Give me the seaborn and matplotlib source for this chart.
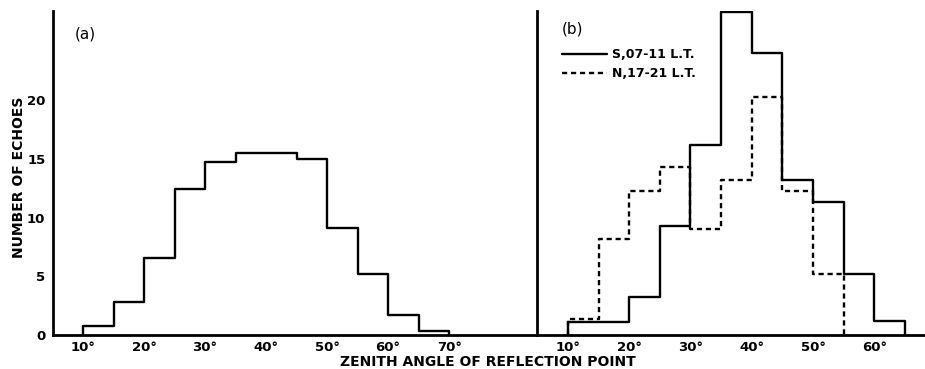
import numpy as np
import pandas as pd
import matplotlib
matplotlib.use("Agg")
import matplotlib.pyplot as plt
import seaborn as sns

# Histogram bin edges (degrees) and echo counts
edges_a = [10, 15, 20, 25, 30, 35, 40, 45, 50, 55, 60, 65, 70]
counts_a = [0.8, 2.8, 6.6, 12.4, 14.7, 15.5, 15.5, 15.0, 9.1, 5.2, 1.7, 0.3]

edges_s = [10, 15, 20, 25, 30, 35, 40, 45, 50, 55, 60, 65]
counts_s = [1.1, 1.1, 3.2, 9.3, 16.2, 27.5, 24.0, 13.2, 11.3, 5.2, 1.2]

edges_n = [10, 15, 20, 25, 30, 35, 40, 45, 50, 55]
counts_n = [1.4, 8.2, 12.3, 14.3, 9.0, 13.2, 20.3, 12.3, 5.2]

label_s = "S,07-11 L.T."
label_n = "N,17-21 L.T."

yticks_a = [0, 5, 10, 15, 20]
xticks_a = list(range(10, 80, 5))
xticks_b = list(range(10, 70, 5))

sns.set_theme(style="white")
plt.rcParams["font.family"] = ["DejaVu Sans"]
plt.rcParams["text.color"] = "black"
plt.rcParams["axes.labelcolor"] = "black"


def step_frame(edges, counts):
    """Outline of a histogram as a closed step path from the baseline."""
    x = [edges[0]] + list(edges)
    y = [0] + list(counts) + [0]
    return pd.DataFrame({"angle": x, "count": y})


def deg_labels(ticks):
    return [f"{t}\u00b0" if t % 10 == 0 else "" for t in ticks]


fig = plt.figure(figsize=(9.25, 3.69), dpi=100)
W, H = 925, 369
base, top = 335, 11
ax1 = fig.add_axes([53 / W, (H - base) / H, (537 - 53) / W, (base - top) / H])
ax2 = fig.add_axes([537 / W, (H - base) / H, (925 - 537) / W, (base - top) / H])

lw = 1.7
sns.lineplot(data=step_frame(edges_a, counts_a), x="angle", y="count", ax=ax1,
             sort=False, estimator=None, drawstyle="steps-post",
             color="black", lw=lw)
sns.lineplot(data=step_frame(edges_s, counts_s), x="angle", y="count", ax=ax2,
             sort=False, estimator=None, drawstyle="steps-post",
             color="black", lw=lw, label=label_s)
sns.lineplot(data=step_frame(edges_n, counts_n), x="angle", y="count", ax=ax2,
             sort=False, estimator=None, drawstyle="steps-post",
             color="black", lw=lw, ls=(0, (2.2, 1.6)), label=label_n)

for ax in (ax1, ax2):
    ax.set_ylim(0, 27.6)
    ax.set_xlabel("")
    ax.set_ylabel("")
    for side in ("top", "right"):
        ax.spines[side].set_visible(False)
    for side in ("left", "bottom"):
        ax.spines[side].set_color("black")
        ax.spines[side].set_linewidth(2.0)
    ax.set_facecolor("none")

ax1.set_xlim(5.08, 84.4)
ax2.set_xlim(4.93, 68.3)

tick_font = dict(fontsize=9.5, fontweight="bold")
ax1.set_xticks(xticks_a)
ax1.set_xticklabels(deg_labels(xticks_a), **tick_font)
ax1.set_yticks(yticks_a)
ax1.set_yticklabels([str(v) for v in yticks_a], **tick_font)
ax1.tick_params(axis="x", direction="in", length=6, width=1.3, pad=4.5, colors="black")
ax1.tick_params(axis="y", direction="out", length=4, width=1.3, pad=1.5, colors="black")

ax2.set_xticks(xticks_b)
ax2.set_xticklabels(deg_labels(xticks_b), **tick_font)
ax2.set_yticks([5, 10, 15, 20, 25])
ax2.set_yticklabels([])
ax2.tick_params(axis="x", direction="in", length=6, width=1.3, pad=4.5, colors="black")
ax2.tick_params(axis="y", direction="in", length=4, width=1.3, colors="black")

ax1.text(0.045, 0.93, "(a)", transform=ax1.transAxes, fontsize=11,
         va="center", ha="left")
ax2.text(0.065, 0.944, "(b)", transform=ax2.transAxes, fontsize=11,
         va="center", ha="left")

leg = ax2.legend(loc="upper left", bbox_to_anchor=(0.064, 0.886), frameon=False,
                 handlelength=3.6, handletextpad=0.4, labelspacing=0.5,
                 borderpad=0, borderaxespad=0,
                 prop=dict(size=9, weight="bold"))
for t in leg.get_texts():
    t.set_color("black")

fig.text(488 / W, 1 - 362 / H, "ZENITH ANGLE OF REFLECTION POINT",
         ha="center", va="center", fontsize=10, fontweight="bold")
fig.text(19 / W, 1 - 177 / H, "NUMBER OF ECHOES", rotation=90,
         ha="center", va="center", fontsize=10, fontweight="bold")

fig.savefig("out.png", dpi=100, facecolor="white")
